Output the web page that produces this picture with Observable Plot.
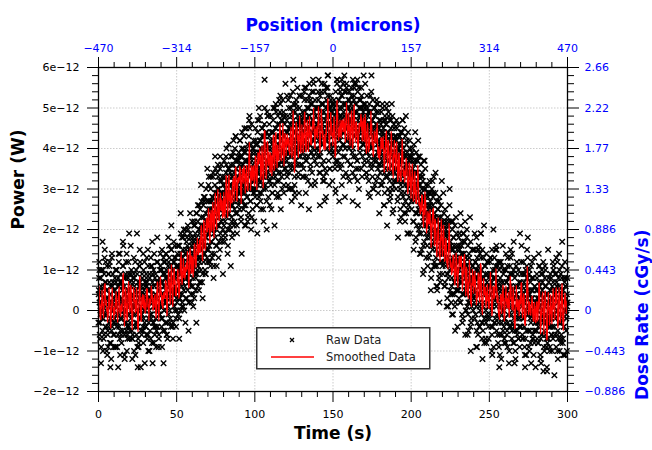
<!DOCTYPE html>
<html><head><meta charset="utf-8">
<script src="https://cdn.jsdelivr.net/npm/d3@7"></script>
<script src="https://cdn.jsdelivr.net/npm/@observablehq/plot@0.6"></script>
<style>
body{margin:0;background:#fff;font-family:"DejaVu Sans",sans-serif;}
#wrap{position:relative;width:652px;height:450px;}
#legend{position:absolute;left:256px;top:327px;}
</style></head><body><div id="wrap"></div>
<script>
// Raw power samples, in tenths of a pW (1e-13 W).
// rawPower: samples at 0, 0.25, 0.5 ... 300 s; rawPower2: samples at 0.125, 0.375 ... 299.875 s
// rawPower3: sparse wide-scatter samples at 0.6, 1.6 ... 299.6 s
const dt = 0.25;
const rawPower = [
-3,5,12,-6,2,0,8,-9,4,1,-2,10,3,-7,6,-1,15,2,-4,7,0,-10,5,3,-5,9,1,-3,11,-8,4,6,-2,2,13,-4,0,7,-6,3,
5,-3,8,1,-9,4,10,-1,2,6,-6,3,12,-4,0,7,-2,9,3,-8,1,5,-5,11,2,-1,6,-12,4,8,0,-3,14,2,-6,5,1,9,-4,3,
-5,7,2,-2,10,0,-7,4,8,-1,3,-10,6,1,12,-3,5,-6,2,9,-4,0,7,-8,3,11,-2,5,-14,1,6,-1,8,3,-5,10,0,4,-3,7,
3,-4,9,1,6,-7,2,11,-2,5,0,8,-5,3,13,-1,4,-8,7,2,-3,10,1,6,-6,4,9,-2,0,12,3,-4,7,1,-9,5,8,-1,2,10,
4,-2,10,1,7,-5,3,12,0,6,9,-3,5,14,2,-6,8,4,11,-1,6,13,0,9,3,-4,15,7,2,10,5,-3,12,8,1,16,4,9,-2,11,
8,2,14,5,-1,11,7,16,3,10,0,13,9,18,4,7,15,1,12,8,19,6,10,3,14,17,8,12,5,20,9,2,15,11,7,18,13,4,16,10,
13,6,18,10,21,3,15,12,19,8,24,14,9,17,22,11,16,5,20,13,25,18,10,23,15,7,21,17,26,12,19,14,28,16,9,22,18,27,13,20,
22,15,27,19,12,25,21,30,17,24,14,28,20,33,23,11,26,22,31,18,25,16,29,24,34,21,27,13,30,23,26,35,19,28,22,32,17,29,25,31,
27,21,33,25,18,30,28,36,23,29,32,16,27,35,24,31,20,34,29,38,26,22,33,30,19,36,28,32,25,40,31,24,35,29,21,37,33,27,30,39,
32,25,38,29,35,22,33,40,30,27,36,31,43,26,34,29,39,21,32,37,28,35,41,30,24,36,33,45,31,27,38,34,23,39,32,36,29,42,35,30,
35,28,41,33,38,26,36,44,31,39,34,47,29,37,42,32,25,40,36,45,33,38,30,43,35,57,39,31,44,36,27,41,37,48,34,40,32,46,38,35,
38,31,44,36,41,29,39,47,34,42,37,50,33,40,45,35,28,43,39,48,36,41,32,46,38,51,42,34,47,39,30,44,40,49,37,43,35,48,41,38,
41,34,47,39,44,31,42,50,36,45,40,53,35,43,48,38,30,46,41,51,39,44,33,49,42,37,52,45,40,55,36,47,43,29,50,41,46,38,44,48,
43,36,49,41,46,33,44,52,38,47,42,55,37,45,50,40,32,48,43,53,41,46,35,51,44,39,54,47,42,57,38,49,45,31,52,43,48,40,46,50,
44,38,50,42,47,34,45,53,39,48,43,56,36,46,51,41,33,49,44,54,42,47,28,52,45,40,55,48,43,37,50,46,35,53,44,49,41,47,51,39,
45,39,51,43,48,35,46,54,40,49,44,57,37,47,52,42,27,50,45,55,43,48,36,53,46,41,56,49,44,58,38,51,47,34,54,45,50,42,48,52,
46,40,52,44,49,36,47,55,41,50,45,57,38,48,53,43,33,51,46,56,44,49,37,54,47,42,55,50,44,39,52,48,35,53,45,50,41,47,51,43,
44,37,50,42,47,34,45,53,39,48,43,29,46,51,41,36,49,44,54,40,47,33,52,45,38,50,43,31,48,42,46,37,51,41,44,35,49,40,45,38,
41,34,47,39,44,31,42,50,36,45,40,26,43,48,38,33,46,41,51,37,44,30,49,42,35,47,40,28,45,39,43,34,48,38,41,32,46,37,42,35,
37,30,43,35,40,27,38,46,32,41,36,22,39,44,34,29,42,37,47,33,40,26,45,38,31,43,36,24,41,35,39,30,44,34,37,28,42,33,38,31,
32,25,38,30,35,22,33,41,27,36,31,17,34,39,29,24,37,32,42,28,33,19,38,31,24,36,29,15,34,28,32,23,37,27,30,21,35,26,31,24,
23,16,29,21,26,13,24,32,18,27,22,8,25,30,20,15,28,23,33,19,24,11,29,22,15,27,20,6,25,19,23,14,28,18,21,12,26,17,22,15,
16,9,22,14,19,6,17,25,11,20,15,1,18,23,13,8,21,16,26,12,17,4,22,15,8,20,13,-1,18,12,16,7,21,11,14,5,19,10,15,8,
12,5,18,10,15,2,13,21,7,16,11,-3,14,19,9,4,17,12,22,8,13,0,18,11,4,16,9,-5,14,8,12,3,17,7,10,1,15,6,11,4,
9,2,15,7,12,-1,10,18,4,13,8,-6,11,16,6,1,14,9,19,5,10,-3,15,8,1,13,6,-8,11,5,9,0,14,4,7,-2,12,3,8,1,
6,-1,12,4,9,-4,7,15,1,10,5,-9,8,13,3,-2,11,6,16,2,7,-6,12,5,-2,10,3,-11,8,2,6,-3,11,1,4,-5,9,0,5,-2,
4,-3,10,2,7,-6,5,13,-1,8,3,-10,6,11,1,-4,9,4,14,0,5,-8,10,3,-4,8,1,-12,6,0,4,-5,9,-1,2,-7,7,-2,3,-4,
3,-4,9,1,6,-7,4,12,-2,7,2,-11,5,10,0,-5,8,3,13,-1,4,-9,9,2,-5,7,0,-13,5,-1,3,-6,8,-2,1,-8,6,-3,2,-5,
2,-5,8,0,5,-8,3,11,-3,6,1,-12,4,9,-1,-6,7,2,12,-2,3,-10,8,1,-6,6,-1,-14,4,-2,2,-7,7,-3,0,-9,5,-4,1,-6,
-1,6,3,-7,10,1,-4,5,9,-2,4,-9,7,0,12,-5,2,8,-3,6,-10,3,1,9,-6,4,11,-1,-8,5,2,-4,8,0,-11,6,3,-2,10,1,
2
];
const rawPower2 = [
4,8,2,-3,-7,-1,6,10,5,0,-5,-10,-2,3,9,13,7,1,-4,-1,5,11,3,-6,-9,-4,2,7,12,4,-2,-8,-12,-5,1,6,9,2,-3,0,
-6,-2,5,10,7,1,-4,-9,-3,4,8,14,6,-1,-7,-11,-5,2,7,3,-2,6,11,16,8,0,-6,-3,4,9,2,-5,-10,-4,3,8,12,5,-1,-7,
-3,3,9,6,0,-5,-12,-6,1,7,13,8,2,-4,-1,5,10,4,-3,-9,-14,-7,0,6,11,15,7,1,-5,-2,4,9,3,-4,-8,-2,5,12,6,0,
-4,2,8,13,7,1,-6,-10,-3,3,9,5,-1,-7,-2,6,11,17,9,2,-3,-8,-4,3,8,4,-2,-9,-5,1,7,12,6,0,-6,-1,5,10,14,7,
1,-4,-9,-2,4,9,13,6,0,-5,2,8,14,10,3,-3,-7,1,7,12,16,9,3,-2,5,11,15,8,2,-4,4,10,17,12,5,0,6,13,9,3,
0,5,11,16,10,3,-2,4,9,14,19,12,6,1,7,13,18,11,5,0,8,14,20,15,8,3,10,16,21,13,7,2,9,15,19,12,6,11,17,22,
14,8,4,11,17,22,16,9,5,12,18,24,17,10,6,13,20,26,19,12,7,15,21,27,20,13,9,16,23,28,21,14,10,18,24,30,22,15,12,19,
25,31,23,16,12,20,27,33,25,17,13,21,28,34,26,19,14,22,29,35,27,20,16,24,30,36,28,21,17,25,32,38,29,22,18,26,33,27,20,24,
31,37,29,22,19,27,34,40,32,24,20,28,35,41,33,26,21,29,36,31,23,18,26,33,39,42,34,27,22,30,37,43,35,28,24,31,38,33,26,29,
36,42,34,27,23,31,38,44,36,29,25,32,39,45,37,30,26,34,40,35,28,22,30,37,43,47,38,31,27,34,41,46,37,30,25,33,40,35,29,32,
39,45,37,30,26,34,41,47,39,32,28,35,42,48,40,33,29,37,43,38,31,25,33,40,46,50,41,34,30,37,44,49,40,33,28,36,43,38,32,35,
42,48,40,33,29,37,44,50,42,35,31,38,45,51,43,36,32,40,46,41,34,28,36,43,49,53,44,37,33,40,47,52,43,36,31,39,46,41,35,38,
44,37,33,41,48,52,45,39,34,30,38,45,50,43,36,42,49,54,47,40,35,31,28,36,44,51,46,39,43,48,41,34,38,46,53,47,40,36,42,45,
47,53,46,39,35,40,48,55,49,42,37,33,41,47,52,45,38,44,50,56,48,41,36,31,39,46,51,44,40,47,54,49,42,37,43,50,45,39,36,44,
40,46,52,57,50,43,38,34,42,49,54,47,41,45,51,44,37,32,27,35,43,50,55,48,42,46,53,58,51,44,39,35,41,48,52,46,40,45,49,43,
38,44,50,47,41,36,30,37,45,51,56,49,43,39,46,52,48,42,35,40,47,53,57,50,44,38,33,41,48,54,46,40,45,51,55,48,42,37,43,47,
50,54,47,41,36,42,49,53,46,39,34,40,47,52,56,49,43,38,45,51,44,37,32,26,35,43,48,52,45,40,46,50,55,48,42,38,44,49,41,36,
43,48,51,45,39,34,40,46,50,44,37,32,38,45,49,53,46,40,35,41,47,43,36,30,37,44,48,42,38,45,49,52,46,39,33,29,36,42,47,40,
36,41,46,49,43,37,32,38,44,47,41,34,29,35,42,46,50,43,37,33,39,44,40,34,27,32,39,43,47,41,36,30,24,31,38,42,45,39,34,37,
32,38,42,45,39,33,28,34,40,43,37,30,25,31,37,41,44,38,32,28,34,39,35,29,22,27,34,38,42,36,31,25,19,26,33,37,40,34,29,31,
27,33,37,40,34,28,22,28,34,37,31,24,18,24,30,34,37,31,25,20,26,31,27,21,14,19,26,30,33,27,22,16,10,17,24,28,30,24,19,21,
18,24,28,31,25,19,14,20,26,29,23,16,10,16,22,26,29,23,17,12,18,23,19,13,6,11,18,22,25,19,14,8,2,9,16,20,23,17,12,14,
11,17,21,24,18,12,7,13,19,22,16,9,3,9,15,19,22,16,10,5,11,16,12,6,-1,4,11,15,18,12,7,1,-5,2,9,13,16,10,5,8,
6,12,16,19,13,7,2,8,14,17,11,4,-2,4,10,14,17,11,5,0,6,11,7,1,-6,-1,6,10,13,7,2,-4,-10,-3,4,8,11,5,0,3,
9,3,-2,5,12,8,1,-5,-9,-3,4,10,15,9,2,-4,0,7,13,6,-1,-7,-12,-5,2,8,4,-2,6,11,5,-3,-8,-1,5,9,2,-4,1,6,
-2,4,9,13,6,0,-6,-11,-4,2,8,3,-3,5,10,15,8,1,-5,-1,6,11,4,-3,-9,-14,-6,1,7,12,5,-1,-6,0,7,10,3,-4,-8,-2,
5,10,14,7,1,-5,-9,-3,3,8,2,-4,4,9,13,6,-1,-7,-3,3,9,5,-2,-8,-13,-5,1,6,11,4,-2,-6,0,6,10,3,-4,-9,-4,2,
7,12,5,-1,-6,-2,4,9,3,-4,-9,-14,-7,0,6,11,15,8,1,-5,-1,5,10,4,-2,-8,-3,3,8,12,5,-1,-7,-11,-5,1,6,2,-3,0,
5,9,3,-3,-8,-4,2,7,11,4,-2,-7,-13,-6,0,5,9,3,-3,-9,-5,1,6,10,4,-3,-9,-15,-8,-2,4,8,2,-4,-1,5,9,3,-2,-6,
-10,-4,2,7,11,5,-1,-6,-2,4,9,13,6,0,-6,-12,-7,-1,5,10,3,-3,-8,-3,3,8,4,-2,-7,-11,-4,2,7,12,6,0,-5,-1,4,8
];
const rawPower3 = [
10,-13,17,-6,12,-11,9,-14,14,-9, -9,10,-14,14,-6,17,-11,12,-7,19,
16,-7,9,-11,19,-9,12,-6,14,-13, -6,15,-10,11,-13,14,-4,18,-7,11,
15,-13,12,-6,18,-3,21,-7,13,-4, 16,-7,24,2,20,-3,18,-5,24,2,
1,21,-3,26,7,31,3,27,9,35, 33,11,27,8,38,11,33,15,36,9,
17,38,14,35,11,38,21,43,19,37, 42,14,40,21,45,23,48,20,40,22,
42,19,50,27,45,22,43,20,48,26, 25,44,21,49,29,52,25,48,29,56,
53,30,46,27,57,29,50,33,53,26, 33,54,29,50,25,52,34,56,32,50,
54,26,51,32,56,34,58,31,50,32, 52,29,57,36,54,31,51,28,56,33,
32,51,27,55,35,57,30,52,33,58, 56,33,49,28,58,30,50,32,51,24,
31,51,26,47,21,48,29,51,25,43, 47,18,43,23,47,24,48,19,38,19,
39,15,44,21,38,14,33,9,37,13, 11,29,5,32,11,34,5,27,7,32,
29,6,21,1,30,2,22,4,23,-4, 3,24,-1,19,-6,20,2,23,-2,15,
19,-9,15,-4,19,-3,21,-7,12,-7, 13,-10,20,-3,15,-8,12,-12,16,-7,
-8,11,-13,15,-5,17,-10,12,-7,19, 16,-7,9,-11,18,-10,11,-7,13,-14,
-7,14,-11,10,-15,11,-7,15,-10,8, 12,-16,9,-10,14,-7,17,-11,8,-10
];

const timeTicks = [0, 50, 100, 150, 200, 250, 300];
const positionLabels = ["\u2212470", "\u2212314", "\u2212157", "0", "157", "314", "470"];
const powerTicks = [-2, -1, 0, 1, 2, 3, 4, 5, 6]; // pW
const powerLabels = ["\u22122e\u221212", "\u22121e\u221212", "0", "1e\u221212", "2e\u221212", "3e\u221212", "4e\u221212", "5e\u221212", "6e\u221212"];
const doseLabels = ["\u22120.886", "\u22120.443", "0", "0.443", "0.886", "1.33", "1.77", "2.22", "2.66"];
const timeMinor = d3.range(0, 301, 10).filter(d => d % 50 !== 0);
const powerMinor = d3.range(-20, 61, 2).map(d => d / 10).filter(d => !Number.isInteger(d));

const rows = rawPower.map((v, i) => ({t: i * dt, p: v / 10}))
  .concat(rawPower2.map((v, i) => ({t: (i + 0.5) * dt, p: v / 10})))
  .concat(rawPower3.map((v, i) => ({t: i + 0.6, p: v / 10})))
  .sort((a, b) => a.t - b.t);

const font = "DejaVu Sans";
const chart = Plot.plot({
  width: 652, height: 450,
  marginLeft: 98, marginRight: 85, marginTop: 67, marginBottom: 59,
  style: {fontFamily: font, fontSize: "11px", background: "white", color: "black"},
  x: {domain: [0, 300], label: null},
  y: {domain: [-2, 6], label: null},
  marks: [
    Plot.gridX(timeTicks, {stroke: "#999", strokeOpacity: 0.5, strokeDasharray: "1.5,1.5"}),
    Plot.gridY(powerTicks, {stroke: "#999", strokeOpacity: 0.5, strokeDasharray: "1.5,1.5"}),
    Plot.dot(rows, {x: "t", y: "p", symbol: "times", r: 2.6, stroke: "black", strokeWidth: 1.4}),
    Plot.lineY(rows, Plot.windowY({k: 7, anchor: "middle"}, {x: "t", y: "p", stroke: "red", strokeWidth: 1.2})),
    Plot.frame({stroke: "black", strokeWidth: 1.3}),
    Plot.axisX(timeTicks, {anchor: "bottom", tickSize: 11, tickPadding: 8, tickFormat: d => String(d), label: null}),
    Plot.axisX(timeMinor, {anchor: "bottom", tickSize: 6, tickFormat: () => "", label: null}),
    Plot.axisX(timeTicks, {anchor: "top", tickSize: 11, tickPadding: 5, stroke: "black", fill: "blue", tickFormat: d => positionLabels[timeTicks.indexOf(d)], label: null}),
    Plot.axisX(timeMinor, {anchor: "top", tickSize: 6, tickFormat: () => "", label: null}),
    Plot.axisY(powerTicks, {anchor: "left", tickSize: 11, tickPadding: 8, tickFormat: d => powerLabels[powerTicks.indexOf(d)], label: null}),
    Plot.axisY(powerMinor, {anchor: "left", tickSize: 6, tickFormat: () => "", label: null}),
    Plot.axisY(powerTicks, {anchor: "right", tickSize: 11, tickPadding: 6, stroke: "black", fill: "blue", tickFormat: d => doseLabels[powerTicks.indexOf(d)], label: null}),
    Plot.axisY(powerMinor, {anchor: "right", tickSize: 6, tickFormat: () => "", label: null}),
    Plot.text(["Time (s)"], {text: d => d, frameAnchor: "bottom", dy: 47, fontSize: 17, fontWeight: "bold", fill: "black"}),
    Plot.text(["Position (microns)"], {text: d => d, frameAnchor: "top", dy: -49, fontSize: 17, fontWeight: "bold", fill: "blue"}),
    Plot.text(["Power (W)"], {text: d => d, frameAnchor: "left", dx: -80, rotate: -90, fontSize: 17, fontWeight: "bold", fill: "black"}),
    Plot.text(["Dose Rate (cGy/s)"], {text: d => d, frameAnchor: "right", dx: 75, rotate: -90, fontSize: 17, fontWeight: "bold", fill: "blue"})
  ]
});
const wrap = document.getElementById("wrap");
wrap.appendChild(chart);

const legend = document.createElement("div");
legend.id = "legend";
legend.innerHTML = `<svg width="175" height="43" xmlns="http://www.w3.org/2000/svg" style="font-family:'DejaVu Sans';font-size:11.5px">
<rect x="0.75" y="0.75" width="173" height="41" fill="white" stroke="#333" stroke-width="1.5"/>
<path d="M34,11 L38,15 M38,11 L34,15" stroke="black" stroke-width="1.3"/>
<line x1="15" y1="30" x2="58" y2="30" stroke="red" stroke-width="1.4"/>
<text x="70" y="13" dominant-baseline="central" fill="#222">Raw Data</text>
<text x="70" y="30" dominant-baseline="central" fill="#222">Smoothed Data</text>
</svg>`;
wrap.appendChild(legend);
</script>
</body></html>
